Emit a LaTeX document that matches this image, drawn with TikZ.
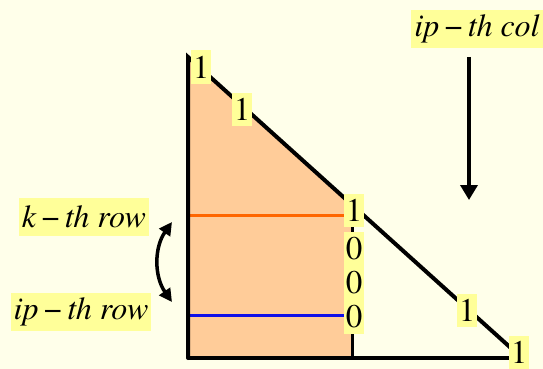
\documentclass[tikz,border=0pt]{standalone}
\usepackage{fontspec}
\setmainfont{texgyretermes}[Extension=.otf, UprightFont=*-regular, ItalicFont=*-italic, BoldFont=*-bold, BoldItalicFont=*-bolditalic]
\usetikzlibrary{arrows.meta}
\definecolor{bg}{HTML}{FFFFEA}
\definecolor{fillsalmon}{HTML}{FFCC99}
\definecolor{lab}{HTML}{FFFF99}
\definecolor{orangeline}{HTML}{FF6600}
\definecolor{blueline}{HTML}{1010E8}
\tikzset{
  num/.style={fill=lab, font=\fontsize{33}{34}\selectfont, inner xsep=1.5pt, inner ysep=0pt, minimum height=33pt},
  lbl/.style={fill=lab, font=\fontsize{32}{34}\selectfont\itshape, inner xsep=3pt, inner ysep=2pt, minimum height=38pt},
  thickline/.style={line width=4pt},
  arr/.style={line width=3.5pt, -{Triangle[length=15pt,width=17pt]}},
}
\begin{document}
\begin{tikzpicture}[x=1pt,y=-1pt]
\fill[bg] (0,0) rectangle (543,369);
\useasboundingbox (0,0) rectangle (543,369);
% corner coordinates
\coordinate (tl) at (188,57);
\coordinate (bl) at (188,358);
\coordinate (dk) at (352,204.6);
\coordinate (bk) at (352,358);
\coordinate (br) at (512,349);
\coordinate (bre) at (512,358);
% salmon region
\fill[fillsalmon] (tl) -- (dk) -- (bk) -- (bl) -- cycle;
% colored rows
\coordinate (ko) at (188,215);
\coordinate (ke) at (346,215);
\coordinate (io) at (188,315);
\coordinate (ie) at (346,315);
\draw[orangeline, line width=3pt] (ko) -- (ke);
\draw[blueline, line width=3pt] (io) -- (ie);
% structure lines
\draw[line width=3pt] (dk) -- (bk);
\draw[thickline, line cap=round] (bl) -- (tl) -- (br);
\draw[thickline] (bl) -- (bre);
% entries
\node[num] (n1) at (201,67) {1};
\node[num] (n2) at (242,109) {1};
\node[num] (n3) at (354,210) {1};
\node[fill=lab, font=\fontsize{33}{34}\selectfont, inner xsep=1.5pt, inner ysep=6pt, align=center] (zeros) at (354,283) {0\\0\\0};
\node[num] (n4) at (467,310) {1};
\node[num] (n5) at (519,352) {1};
% labels
\node[lbl] (krow) at (84,217) {k\,{\upshape −}\,th row};
\node[lbl] (iprow) at (81,312) {ip\,{\upshape −}\,th row};
\node[lbl] (ipcol) at (477,29) {ip\,{\upshape −}\,th col};
% arrows
\coordinate (cs) at (469,57);
\coordinate (ce) at (469,200);
\draw[arr] (cs) -- (ce);
\coordinate (sw1) at (172,222);
\coordinate (sw2) at (172,302);
\draw[line width=3.5pt, {Triangle[length=13pt,width=13pt]}-{Triangle[length=13pt,width=13pt]}] (sw1) to[bend right=35] (sw2);
\end{tikzpicture}
\end{document}
